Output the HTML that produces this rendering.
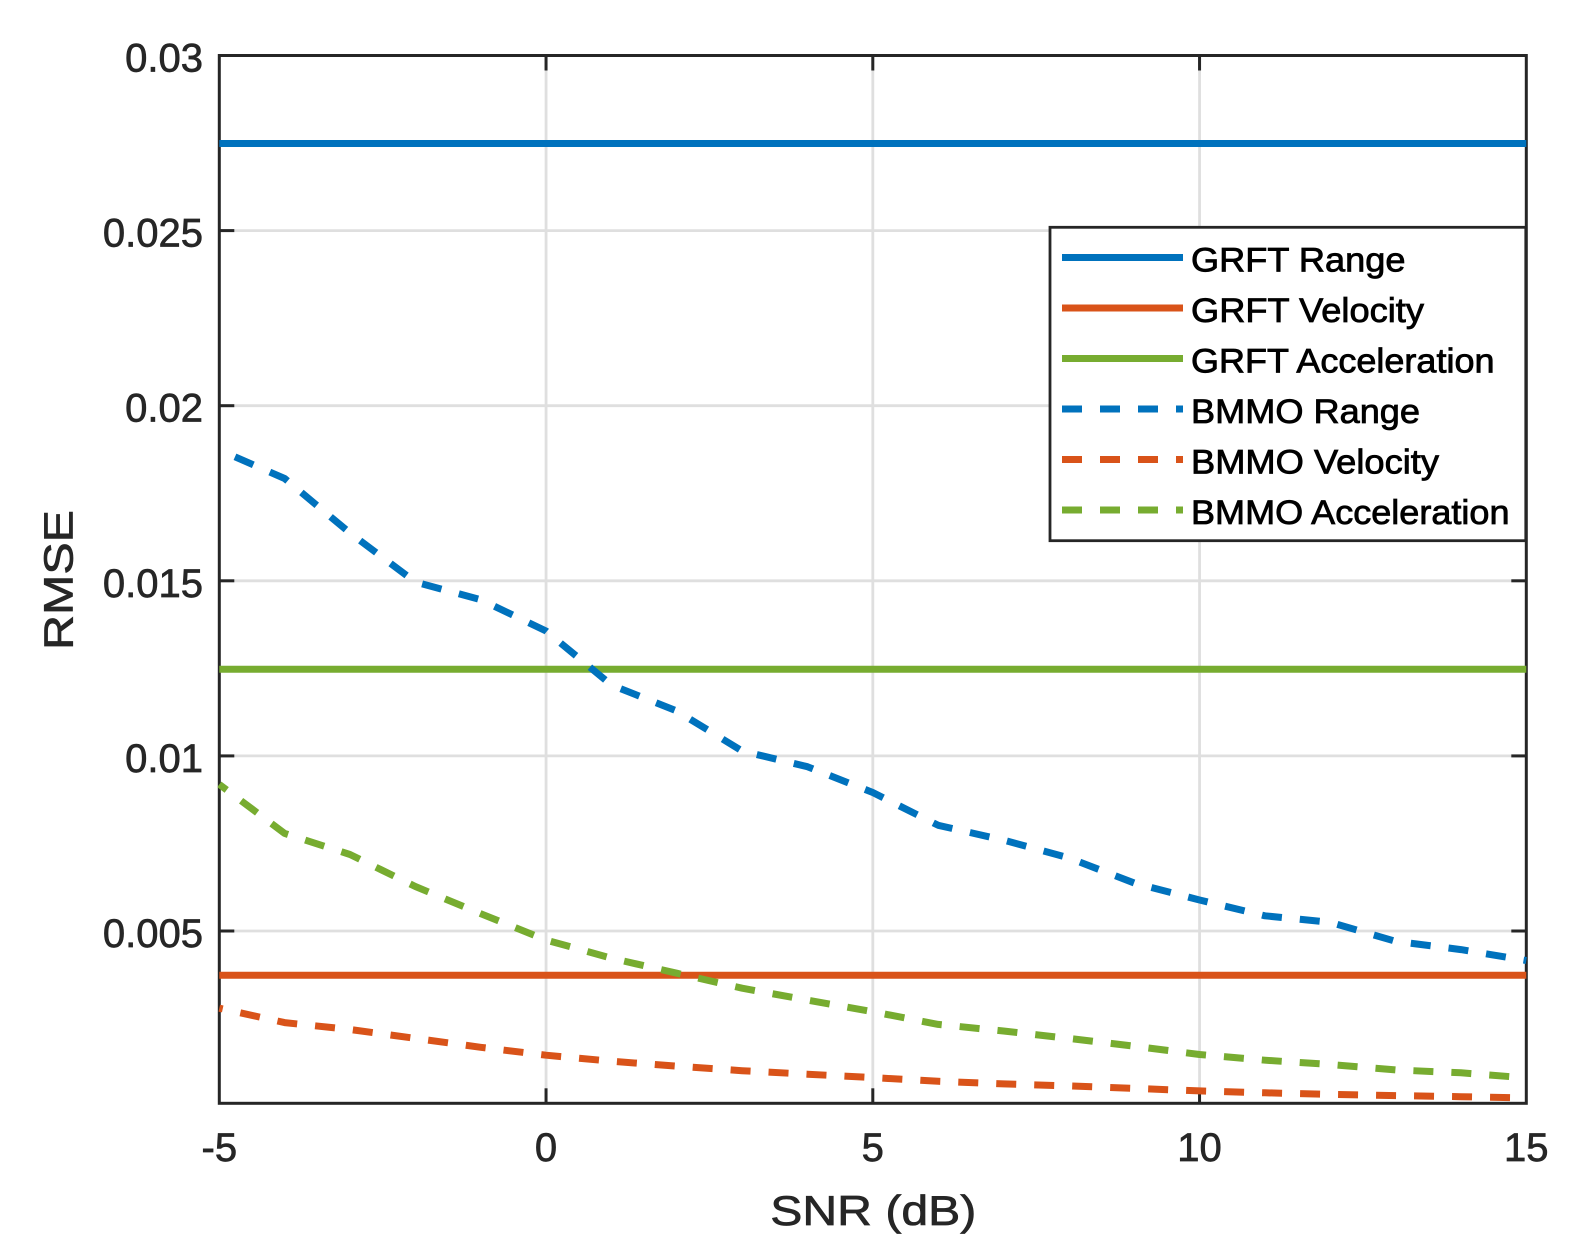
<!DOCTYPE html>
<html>
<head>
<meta charset="utf-8">
<style>
  html, body { margin: 0; padding: 0; background: #ffffff; }
  svg { display: block; }
  text { font-family: "Liberation Sans", Arial, Helvetica, sans-serif; }
</style>
</head>
<body>
<svg width="1574" height="1255" viewBox="0 0 1574 1255" xmlns="http://www.w3.org/2000/svg">
  <defs>
    <clipPath id="plotclip">
      <rect x="217.8" y="54" width="1310" height="1050.8"/>
    </clipPath>
  </defs>
  <rect x="0" y="0" width="1574" height="1255" fill="#ffffff"/>

  <!-- grid -->
  <g stroke="#dfdfdf" stroke-width="2.8" fill="none">
    <line x1="546.05" y1="55.5" x2="546.05" y2="1103.3"/>
    <line x1="872.8" y1="55.5" x2="872.8" y2="1103.3"/>
    <line x1="1199.55" y1="55.5" x2="1199.55" y2="1103.3"/>
    <line x1="219.3" y1="230.6" x2="1526.3" y2="230.6"/>
    <line x1="219.3" y1="405.7" x2="1526.3" y2="405.7"/>
    <line x1="219.3" y1="580.8" x2="1526.3" y2="580.8"/>
    <line x1="219.3" y1="755.9" x2="1526.3" y2="755.9"/>
    <line x1="219.3" y1="931" x2="1526.3" y2="931"/>
  </g>

  <!-- axes box and ticks -->
  <g stroke="#262626" stroke-width="3" fill="none">
    <rect x="219.3" y="55.5" width="1307" height="1047.8"/>
    <line x1="219.3" y1="230.6" x2="234.3" y2="230.6"/>
    <line x1="219.3" y1="405.7" x2="234.3" y2="405.7"/>
    <line x1="219.3" y1="580.8" x2="234.3" y2="580.8"/>
    <line x1="219.3" y1="755.9" x2="234.3" y2="755.9"/>
    <line x1="219.3" y1="931" x2="234.3" y2="931"/>
    <line x1="1526.3" y1="230.6" x2="1511.3" y2="230.6"/>
    <line x1="1526.3" y1="405.7" x2="1511.3" y2="405.7"/>
    <line x1="1526.3" y1="580.8" x2="1511.3" y2="580.8"/>
    <line x1="1526.3" y1="755.9" x2="1511.3" y2="755.9"/>
    <line x1="1526.3" y1="931" x2="1511.3" y2="931"/>
    <line x1="546.05" y1="1103.3" x2="546.05" y2="1088.3"/>
    <line x1="872.8" y1="1103.3" x2="872.8" y2="1088.3"/>
    <line x1="1199.55" y1="1103.3" x2="1199.55" y2="1088.3"/>
    <line x1="546.05" y1="55.5" x2="546.05" y2="70.5"/>
    <line x1="872.8" y1="55.5" x2="872.8" y2="70.5"/>
    <line x1="1199.55" y1="55.5" x2="1199.55" y2="70.5"/>
  </g>

  <!-- data -->
  <g clip-path="url(#plotclip)" fill="none" stroke-width="7" stroke-linejoin="round">
    <line x1="219.3" y1="143.5" x2="1526.3" y2="143.5" stroke="#0072BD"/>
    <line x1="219.3" y1="975.3" x2="1526.3" y2="975.3" stroke="#D95319"/>
    <line x1="219.3" y1="669.3" x2="1526.3" y2="669.3" stroke="#77AC30"/>

    <polyline stroke="#0072BD" stroke-dasharray="20 18" stroke-dashoffset="20.9"
      points="219.3,450 284.65,478.5 350,533 415.35,582 480.7,599.7 546.05,631 611.4,685 676.75,711 742.1,751 807.45,766.7 872.8,792.5 938.15,825.3 1003.5,840.1 1068.85,857.9 1134.2,883 1199.55,900 1264.9,915.8 1330.25,922.3 1395.6,941.3 1460.95,949.6 1526.3,960.5"/>

    <polyline stroke="#D95319" stroke-dasharray="20 18" stroke-dashoffset="16.5"
      points="219.3,1008.2 284.65,1022.6 350,1029.5 415.35,1038.4 480.7,1047.3 546.05,1055.2 611.4,1061.2 676.75,1066.2 742.1,1070.7 807.45,1074.2 872.8,1077.6 938.15,1081.3 1003.5,1083.9 1068.85,1085.9 1134.2,1088.4 1199.55,1090.9 1264.9,1092.8 1330.25,1094.4 1395.6,1095.6 1460.95,1096.7 1526.3,1097.9"/>

    <polyline stroke="#77AC30" stroke-dasharray="20 18" stroke-dashoffset="10.75"
      points="219.3,784.4 284.65,833.4 350,854.5 415.35,886.5 480.7,913.7 546.05,940 611.4,958.2 676.75,973.2 742.1,988.2 807.45,1000.1 872.8,1011.7 938.15,1024.4 1003.5,1031 1068.85,1038.4 1134.2,1046.2 1199.55,1054.5 1264.9,1060.2 1330.25,1064.5 1395.6,1069.9 1460.95,1072.8 1526.3,1077.9"/>
  </g>

  <!-- tick labels -->
  <g fill="#262626" stroke="#262626" stroke-width="0.7" font-size="40">
    <text x="203" y="71.5" text-anchor="end">0.03</text>
    <text x="203" y="246.6" text-anchor="end">0.025</text>
    <text x="203" y="421.7" text-anchor="end">0.02</text>
    <text x="203" y="596.8" text-anchor="end">0.015</text>
    <text x="203" y="771.9" text-anchor="end">0.01</text>
    <text x="203" y="947" text-anchor="end">0.005</text>

    <text x="219.3" y="1161" text-anchor="middle">-5</text>
    <text x="546.05" y="1161" text-anchor="middle">0</text>
    <text x="872.8" y="1161" text-anchor="middle">5</text>
    <text x="1199.55" y="1161" text-anchor="middle">10</text>
    <text x="1526.3" y="1161" text-anchor="middle">15</text>
  </g>

  <!-- axis labels -->
  <text x="873.3" y="1225" text-anchor="middle" font-size="42" fill="#262626" stroke="#262626" stroke-width="0.7" textLength="206" lengthAdjust="spacingAndGlyphs">SNR (dB)</text>
  <text transform="translate(72.7,580) rotate(-90)" x="0" y="0" text-anchor="middle" font-size="41" fill="#262626" stroke="#262626" stroke-width="0.7" textLength="140" lengthAdjust="spacingAndGlyphs">RMSE</text>

  <!-- legend -->
  <rect x="1050" y="227.3" width="475.8" height="313.4" fill="#ffffff" stroke="#262626" stroke-width="2.8"/>
  <g fill="none" stroke-width="7">
    <line x1="1062" y1="257.5" x2="1183" y2="257.5" stroke="#0072BD"/>
    <line x1="1062" y1="308" x2="1183" y2="308" stroke="#D95319"/>
    <line x1="1062" y1="358.5" x2="1183" y2="358.5" stroke="#77AC30"/>
    <line x1="1062" y1="409" x2="1183" y2="409" stroke="#0072BD" stroke-dasharray="20 18"/>
    <line x1="1062" y1="459.5" x2="1183" y2="459.5" stroke="#D95319" stroke-dasharray="20 18"/>
    <line x1="1062" y1="510" x2="1183" y2="510" stroke="#77AC30" stroke-dasharray="20 18"/>
  </g>
  <g fill="#000000" stroke="#000000" stroke-width="0.8" font-size="34.5">
    <text x="1191" y="271.7" textLength="214.5" lengthAdjust="spacingAndGlyphs">GRFT Range</text>
    <text x="1191" y="322.2" textLength="233" lengthAdjust="spacingAndGlyphs">GRFT Velocity</text>
    <text x="1191" y="372.7" textLength="303.5" lengthAdjust="spacingAndGlyphs">GRFT Acceleration</text>
    <text x="1191" y="423.2" textLength="229" lengthAdjust="spacingAndGlyphs">BMMO Range</text>
    <text x="1191" y="473.7" textLength="248" lengthAdjust="spacingAndGlyphs">BMMO Velocity</text>
    <text x="1191" y="524.2" textLength="318.5" lengthAdjust="spacingAndGlyphs">BMMO Acceleration</text>
  </g>
</svg>
</body>
</html>
